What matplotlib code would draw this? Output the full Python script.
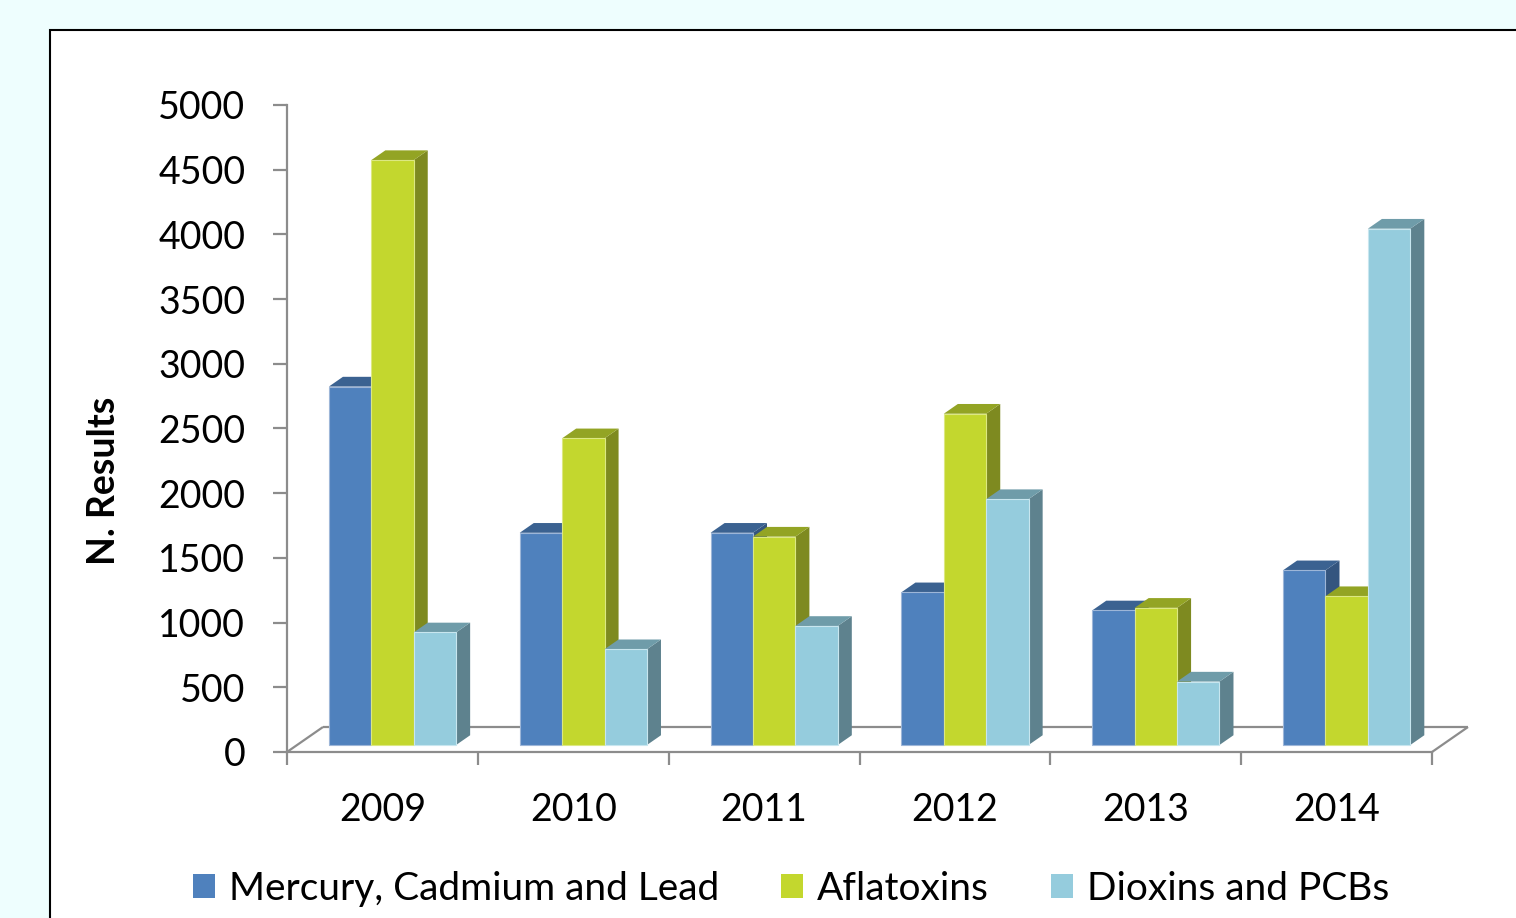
import numpy as np
import matplotlib.pyplot as plt
from matplotlib.patches import Rectangle, Patch, Polygon

plt.rcParams['font.family'] = ['Lato', 'DejaVu Sans']

# Data
years = ['2009', '2010', '2011', '2012', '2013', '2014']
series = ['Mercury, Cadmium and Lead', 'Aflatoxins', 'Dioxins and PCBs']
mercury = [2770, 1640, 1640, 1180, 1040, 1350]
aflatoxins = [4520, 2370, 1610, 2560, 1060, 1150]
dioxins = [870, 740, 920, 1900, 490, 3990]
values = [mercury, aflatoxins, dioxins]

# Excel-like 3D shading: front, side, top
front_c = ['#4F81BD', '#C3D72E', '#95CCDD']
side_c = ['#34557F', '#7E8A20', '#5E828E']
top_c = ['#3B6291', '#93A424', '#6F9CA9']
edge_c = ['#9DB6D8', '#DCE882', '#C8E6EF']

W, H = 1516, 918
fig = plt.figure(figsize=(W / 100, H / 100), dpi=100)
fig.patch.set_facecolor('#EEFEFE')

# white chart panel with black border
fig.add_artist(Rectangle((50 / W, -0.05), 1.0, 1 - 30 / H + 0.05, transform=fig.transFigure,
                         facecolor='white', edgecolor='black', lw=1.5, zorder=-5))

ax_l, ax_r, ax_t, ax_b = 287, 1432, 105, 752
ax = fig.add_axes([ax_l / W, 1 - ax_b / H, (ax_r - ax_l) / W, (ax_b - ax_t) / H])
ax.set_facecolor('none')
n = len(years)
ax.set_xlim(0, n)
ax.set_ylim(0, 5000)

# depth vector of the floor (pixels -> data units)
px_x = (ax_r - ax_l) / n
px_y = (ax_b - ax_t) / 5000
DX, DY = 36 / px_x, 25 / px_y
f_front, f_depth = 0.28, 0.39
grey = '#8C8C8C'

# floor outline
fl = dict(color=grey, lw=1.6, clip_on=False, zorder=1, solid_capstyle='butt')
ax.plot([0, DX], [0, DY], **fl)
ax.plot([DX, n + DX], [DY, DY], **fl)
ax.plot([n, n + DX], [0, DY], **fl)

bw = 1 / 4.5
for j in range(n):
    for i, vals in enumerate(values):
        v = vals[j]
        x0 = j + 0.75 * bw + i * bw + f_front * DX
        y0 = f_front * DY
        bx, by = f_depth * DX, f_depth * DY
        z = 3 + j * 3 + i
        side = [(x0 + bw, y0), (x0 + bw + bx, y0 + by), (x0 + bw + bx, y0 + v + by), (x0 + bw, y0 + v)]
        top = [(x0, y0 + v), (x0 + bw, y0 + v), (x0 + bw + bx, y0 + v + by), (x0 + bx, y0 + v + by)]
        ax.add_patch(Polygon(side, closed=True, facecolor=side_c[i], edgecolor='none',
                             clip_on=False, zorder=z))
        ax.add_patch(Polygon(top, closed=True, facecolor=top_c[i], edgecolor='none',
                             clip_on=False, zorder=z))
        ax.add_patch(Rectangle((x0, y0), bw, v, facecolor=front_c[i], edgecolor=edge_c[i],
                               lw=0.8, clip_on=False, zorder=z))

for s in ['top', 'right']:
    ax.spines[s].set_visible(False)
for s in ['left', 'bottom']:
    ax.spines[s].set_color(grey)
    ax.spines[s].set_linewidth(1.6)
    ax.spines[s].set_zorder(2)

ax.set_yticks(np.arange(0, 5001, 500))
ax.tick_params(axis='y', direction='out', length=10, width=1.6, color=grey,
               labelsize=27, pad=20)
ax.set_xticks(np.arange(0, n + 1))
ax.set_xticklabels([])
ax.set_xticks(np.arange(n) + 0.5, minor=True)
ax.set_xticklabels(years, minor=True)
ax.tick_params(axis='x', which='major', direction='out', length=9.5, width=1.6, color=grey)
ax.tick_params(axis='x', which='minor', length=0, labelsize=27, pad=29)

fig.text(104 / W, 1 - 481 / H, 'N. Results', rotation=90, ha='center', va='center',
         fontsize=27, fontweight='bold')

handles = [Patch(facecolor=c, edgecolor='none') for c in front_c]
fig.legend(handles, series, loc='center', bbox_to_anchor=(791 / W, 1 - 889 / H), ncol=3,
           frameon=False, fontsize=28, handlelength=0.57, handleheight=0.57,
           handletextpad=0.35, columnspacing=1.6, borderpad=0)

fig.savefig('out.png', dpi=100, facecolor=fig.get_facecolor())
